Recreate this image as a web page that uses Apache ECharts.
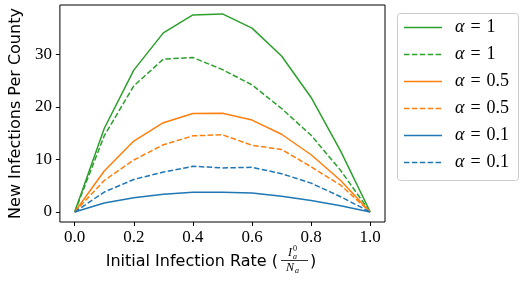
<!DOCTYPE html>
<html><head><meta charset="utf-8">
<script src="https://cdn.jsdelivr.net/npm/echarts@6/dist/echarts.min.js"></script>
<style>html,body{margin:0;padding:0;background:#fff}#c{width:522px;height:281px}</style>
</head><body><div id="c"></div>
<script>
const xs = [0,0.1,0.2,0.3,0.4,0.5,0.6,0.7,0.8,0.9,1.0];
const green1 = [0,15.9,27.0,34.1,37.5,37.7,35.0,29.7,21.8,11.6,0];
const green1d = [0,14.5,24.0,29.1,29.4,27.1,24.2,19.7,14.6,7.9,0];
const orange05 = [0,7.8,13.5,17.0,18.75,18.8,17.5,14.8,10.9,6.0,0];
const orange05d = [0,6.0,9.9,12.8,14.5,14.7,12.7,11.9,8.6,5.1,0];
const blue01 = [0,1.7,2.7,3.4,3.75,3.75,3.6,3.0,2.2,1.2,0];
const blue01d = [0,3.8,6.2,7.6,8.7,8.4,8.5,7.3,5.5,2.9,0];
const xTicks = [0,0.2,0.4,0.6,0.8,1.0];
const yTicks = [0,10,20,30];
const legendLabels = ['α = 1','α = 1','α = 0.5','α = 0.5','α = 0.1','α = 0.1'];

const G='#2ca02c', O='#ff7f0e', B='#1f77b4';
const dash=[5.5,2.4];
function mk(name,data,color,dashed){
  return {name,type:'line',data:xs.map((x,i)=>[x,data[i]]),symbol:'none',
    lineStyle:{color,width:1.5,type:dashed?dash:'solid'},itemStyle:{color},silent:true,animation:false};
}
const series=[mk('g',green1,G,false),mk('gd',green1d,G,true),mk('o',orange05,O,false),mk('od',orange05d,O,true),mk('b',blue01,B,false),mk('bd',blue01d,B,true)];
const legColors=[[G,false],[G,true],[O,false],[O,true],[B,false],[B,true]];
const graphics=[{type:'rect',shape:{x:397.5,y:13.5,width:121,height:167,r:3},style:{fill:'#fff',stroke:'#ccc',lineWidth:1},z:10}];
const LF='Liberation Serif';
legColors.forEach((c,i)=>{
  const y=27.5+i*27;
  graphics.push({type:'line',shape:{x1:404,y1:y,x2:442,y2:y},style:{stroke:c[0],lineWidth:1.5,lineDash:c[1]?dash:null},z:11});
  const parts=legendLabels[i].split(' = ');
  graphics.push({type:'text',x:455,y:y,style:{rich:{
      a:{fontFamily:LF,fontStyle:'italic',fontSize:18,fill:'#000'},
      b:{fontFamily:LF,fontSize:18,fill:'#000'}},
    text:'{a|'+parts[0]+'}{b|\u2004=\u2004'+parts[1]+'}',verticalAlign:'middle'},z:11});
});
// x label with fraction
const SF='DejaVu Sans';
graphics.push({type:'text',x:278,y:262,style:{text:'Initial Infection Rate (',fontFamily:SF,fontSize:16,fill:'#000',verticalAlign:'middle',align:'right'},z:11});
graphics.push({type:'text',x:288,y:253,style:{text:'I',fontFamily:LF,fontStyle:'italic',fontSize:12,fill:'#000',verticalAlign:'middle'},z:11});
graphics.push({type:'text',x:293,y:249,style:{text:'0',fontFamily:LF,fontSize:8,fill:'#000',verticalAlign:'middle'},z:11});
graphics.push({type:'text',x:293,y:257,style:{text:'a',fontFamily:LF,fontStyle:'italic',fontSize:8,fill:'#000',verticalAlign:'middle'},z:11});
graphics.push({type:'line',shape:{x1:281,y1:260.5,x2:308,y2:260.5},style:{stroke:'#000',lineWidth:0.8},z:11});
graphics.push({type:'text',x:286,y:268,style:{text:'N',fontFamily:LF,fontStyle:'italic',fontSize:12,fill:'#000',verticalAlign:'middle'},z:11});
graphics.push({type:'text',x:295,y:271,style:{text:'a',fontFamily:LF,fontStyle:'italic',fontSize:8,fill:'#000',verticalAlign:'middle'},z:11});
graphics.push({type:'text',x:310,y:262,style:{text:')',fontFamily:SF,fontSize:16,fill:'#000',verticalAlign:'middle'},z:11});

const chart=echarts.init(document.getElementById('c'),null,{renderer:'canvas'});
chart.setOption({
  animation:false,
  grid:{left:51,top:5,width:334,height:217,show:true,borderColor:'#000',borderWidth:1,backgroundColor:'transparent'},
  xAxis:{type:'value',min:-0.05,max:1.05,
    axisLine:{show:false,onZero:false},splitLine:{show:false},
    axisTick:{show:true,inside:false,customValues:xTicks,length:4,lineStyle:{color:'#000'}},
    axisLabel:{customValues:xTicks,formatter:v=>v.toFixed(1),fontFamily:LF,fontSize:17,color:'#000',margin:7}},
  yAxis:{type:'value',min:-1.9,max:39.4,
    name:'New Infections Per County',nameLocation:'middle',nameGap:35,nameRotate:90,
    nameTextStyle:{fontFamily:SF,fontSize:16,color:'#000'},
    axisLine:{show:false,onZero:false},splitLine:{show:false},
    axisTick:{show:true,inside:false,customValues:yTicks,length:4,lineStyle:{color:'#000'}},
    axisLabel:{customValues:yTicks,fontFamily:LF,fontSize:17,color:'#000',margin:8}},
  series,
  graphic:graphics
});
</script></body></html>
